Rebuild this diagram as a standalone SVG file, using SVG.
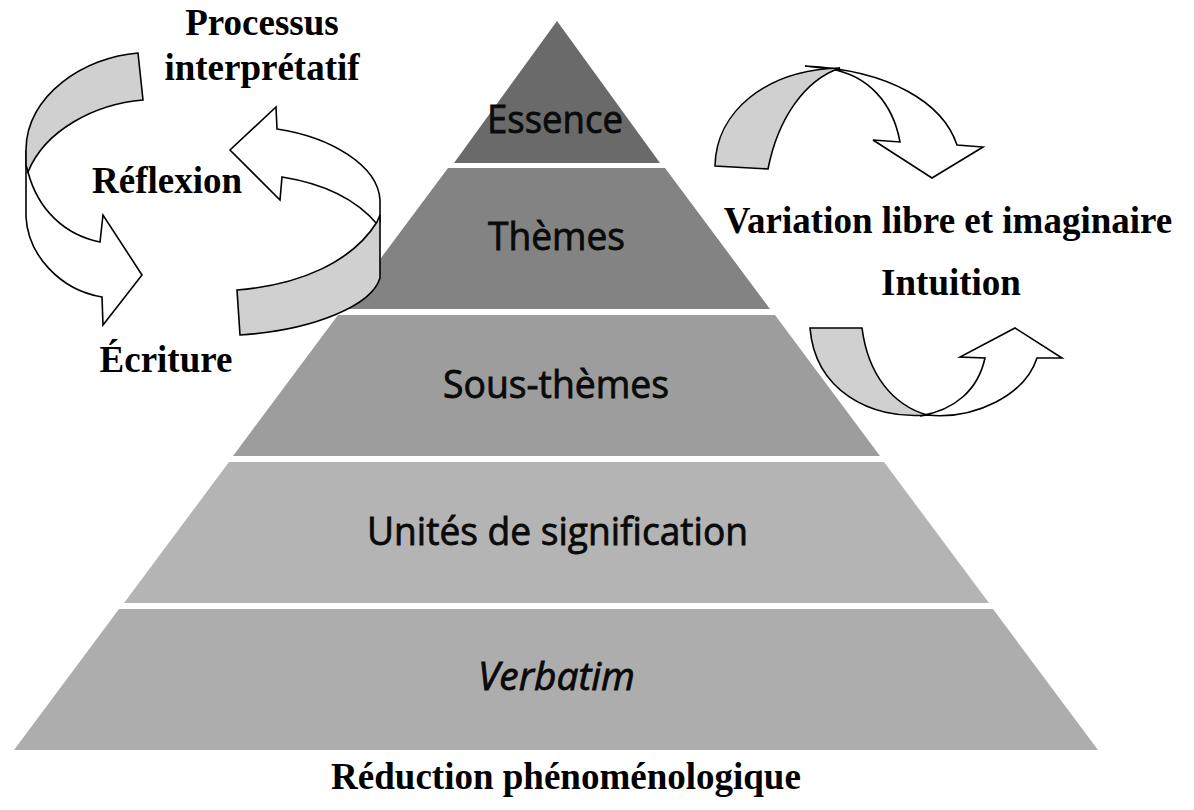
<svg xmlns="http://www.w3.org/2000/svg" width="1194" height="810" viewBox="0 0 1194 810">
<style>
.lvl text{font-family:"Open Sans","Noto Sans","DejaVu Sans",sans-serif;font-size:38px;fill:#0a0a0a;stroke:#0a0a0a;stroke-width:0.8;text-anchor:middle}
.lbl{font-family:"Liberation Serif","Times New Roman",serif;font-weight:bold;font-size:37px;fill:#000;text-anchor:middle}
.back{fill:#d0d0d0;stroke:#000;stroke-width:1.6;stroke-linejoin:miter}
.front{fill:#fff;stroke:#000;stroke-width:1.6;stroke-linejoin:miter}
</style>
<rect width="1194" height="810" fill="#fff"/>
<g id="pyramid">
<g id="essence" class="lvl">
<polygon points="557,21 660,163 454,163" fill="#6a6a6a"/>
<text x="555" y="133" textLength="136" lengthAdjust="spacingAndGlyphs">Essence</text>
</g>
<g id="themes" class="lvl">
<polygon points="448,168 665,168 770,309 343,309" fill="#838383"/>
<text x="556.5" y="250" textLength="137" lengthAdjust="spacingAndGlyphs">Thèmes</text>
</g>
<g id="sous-themes" class="lvl">
<polygon points="338,315 775,315 880,456 233,456" fill="#9d9d9d"/>
<text x="556" y="398" textLength="226" lengthAdjust="spacingAndGlyphs">Sous-thèmes</text>
</g>
<g id="unites" class="lvl">
<polygon points="229,462 884,462 989,603 124,603" fill="#b4b4b4"/>
<text x="557.5" y="545" textLength="381" lengthAdjust="spacingAndGlyphs">Unités de signification</text>
</g>
<g id="verbatim" class="lvl">
<polygon points="119,609 993,609 1098,750 14,750" fill="#adadad"/>
<text x="556.5" y="690" font-style="italic" textLength="157" lengthAdjust="spacingAndGlyphs">Verbatim</text>
</g>
</g>
<g id="connectors">
<g id="arrow-left-down">
<path class="front" d="M26,150 L26,217 C28,255 60,290 102,297 L103,325 L142,275 L103,215 L100,242 C65,235 38,210 28,172 Z"/>
<path class="back" d="M138,53 L143,100 C95,104 45,130 28,172 L26,165 L26,150 C26,95 85,57 138,53 Z"/>
</g>
<g id="arrow-left-up">
<path class="front" d="M380,222 L380,200 C378,165 330,137 277,129 L276,107 L230,150 L280,200 L282,177 C320,183 355,198 377,224 Z"/>
<path class="back" d="M237,290 C300,285 352,262 377,222 L380,215 L380,278 C372,305 315,330 240,335 Z"/>
</g>
<g id="arrow-right-top">
<path class="front" d="M805,66 C890,70 943,103 957,145 L983,147 L932,178 L873,140 L900,142 C893,103 868,75 830,69 Z"/>
<path class="back" d="M715,166 C716,112 765,70 840,68 C805,80 778,118 768,169 Z"/>
</g>
<g id="arrow-right-bottom">
<path class="back" d="M810,328 L862,328 C868,375 893,405 927,415 C870,420 815,390 810,328 Z"/>
<path class="front" d="M927,415 C975,420 1025,395 1037,358 L1062,358 L1015,328 L960,357 L985,358 C978,390 955,410 920,416 Z"/>
</g>
</g>
<g id="labels">
<g id="processus"><text class="lbl" x="262" y="35">Processus</text><text class="lbl" x="262" y="80">interprétatif</text></g>
<g id="reflexion"><text class="lbl" x="167" y="193">Réflexion</text></g>
<g id="ecriture"><text class="lbl" x="166" y="372">Écriture</text></g>
<g id="variation"><text class="lbl" x="948" y="233">Variation libre et imaginaire</text></g>
<g id="intuition"><text class="lbl" x="951" y="295">Intuition</text></g>
<g id="reduction"><text class="lbl" x="566" y="789">Réduction phénoménologique</text></g>
</g>
</svg>
